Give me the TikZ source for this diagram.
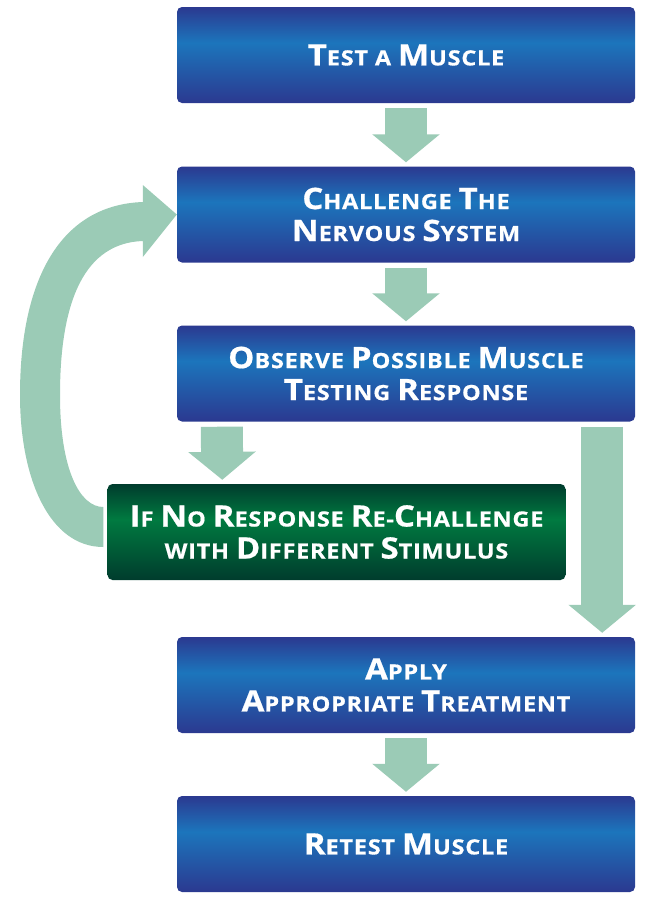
\documentclass[tikz,border=0pt]{standalone}
\usepackage{fontspec}
\setmainfont{Open Sans}[FakeStretch=1.12, LetterSpace=3.5, BoldFeatures={FakeBold=0.6}]
\usetikzlibrary{calc,arrows.meta}
\definecolor{bdark}{HTML}{2B3990}
\definecolor{blight}{HTML}{1C75BC}
\definecolor{gdark}{HTML}{003C2D}
\definecolor{glight}{HTML}{007A40}
\definecolor{arrowc}{HTML}{9BCBB6}
\pgfdeclareverticalshading{blueband}{100bp}{color(0bp)=(bdark); color(25bp)=(bdark); color(56.5bp)=(blight); color(75bp)=(bdark); color(100bp)=(bdark)}
\pgfdeclareverticalshading{greenband}{100bp}{color(0bp)=(gdark); color(25bp)=(gdark); color(56.5bp)=(glight); color(75bp)=(gdark); color(100bp)=(gdark)}
\newcommand\Bc[1]{{\fontsize{29.5}{32}\selectfont #1}}
\begin{document}
\begin{tikzpicture}[x=1pt,y=-1pt,
  stepbox/.style={minimum width=458pt, minimum height=96pt, inner sep=0pt,
    rounded corners=5pt, shading=blueband, align=center, text=white,
    font=\bfseries\fontsize{21}{32}\selectfont},
  greenbox/.style={stepbox, shading=greenband},
  fat/.style={draw=arrowc, line width=42pt, line cap=butt,
    -{Triangle[width=66pt,length=28pt,fill=arrowc]}}
]
\useasboundingbox (0,0) rectangle (650,900);
\node[stepbox] (b1) at (406,55) {\Bc{T}EST A \Bc{M}USCLE};
\node[stepbox] (b2) at (406,214.5) {\Bc{C}HALLENGE \Bc{T}HE\\\Bc{N}ERVOUS \Bc{S}YSTEM};
\node[stepbox] (b3) at (406,373.5) {\Bc{O}BSERVE \Bc{P}OSSIBLE \Bc{M}USCLE\\\Bc{T}ESTING \Bc{R}ESPONSE};
\node[greenbox] (g) at (336.5,532) {\Bc{I}F \Bc{N}O \Bc{R}ESPONSE \Bc{R}E-\Bc{C}HALLENGE\\WITH \Bc{D}IFFERENT \Bc{S}TIMULUS};
\node[stepbox] (b4) at (406,685) {\Bc{A}PPLY\\\Bc{A}PPROPRIATE \Bc{T}REATMENT};
\node[stepbox] (b5) at (406,844) {\Bc{R}ETEST \Bc{M}USCLE};
% straight fat arrows
\draw[fat] ($(b1.south)+(0,5)$) -- ($(b2.north)+(0,-4)$);
\draw[fat] ($(b2.south)+(0,5)$) -- ($(b3.north)+(0,-4)$);
\draw[fat] ($(b3.south west)+(45,5)$) -- ($(g.north west)+(115,-4)$);
\draw[fat] ($(b3.south east)+(-33,5)$) -- ($(b4.north east)+(-33,-4)$);
\draw[fat] ($(b4.south)+(0,5)$) -- ($(b5.north)+(0,-4)$);
% curved return arrow from green box to box 2
\coordinate (gs) at ($(g.west)+(-4,0)$);
\coordinate (tip) at (b2.west);
\fill[arrowc] ($(gs)+(0,15)$) .. controls (50,547) and (20,480) .. (20,395)
  .. controls (20,280) and (60,205) .. ($(tip)+(-34,-12.5)$)
  -- ($(tip)+(-34,-29.5)$) -- (tip) -- ($(tip)+(-34,42.5)$) -- ($(tip)+(-34,26.5)$)
  .. controls (85,243) and (60,300) .. (60,395)
  .. controls (60,470) and (80,507) .. ($(gs)+(0,-25)$) -- cycle;
\end{tikzpicture}
\end{document}
